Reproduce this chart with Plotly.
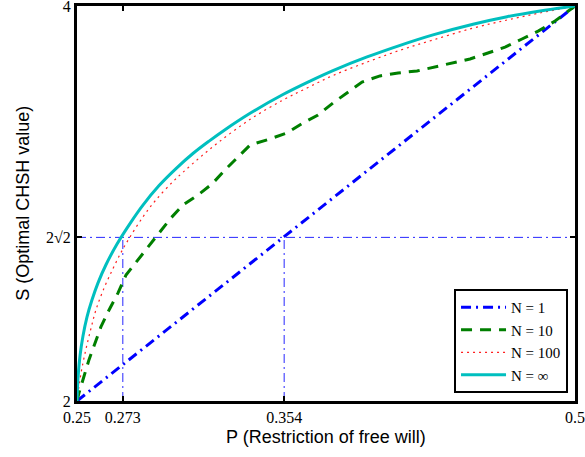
import math
import plotly.graph_objects as go

# ---- data ----
p_n1 = [0.25, 0.5]
s_n1 = [2.0, 4.0]

p_n10 = [0.25, 0.2510, 0.2560, 0.2620, 0.2661, 0.2706, 0.2746, 0.2806, 0.2856, 0.2912,
         0.2972, 0.3032, 0.3107, 0.3178, 0.3243, 0.3308, 0.3369, 0.3469, 0.3554, 0.3635,
         0.3710, 0.3785, 0.3861, 0.3931, 0.4021, 0.4112, 0.4207, 0.4297, 0.4388, 0.4473,
         0.4563, 0.4649, 0.4734, 0.4815, 0.4900, 0.5]
s_n10 = [2.0, 2.041, 2.208, 2.375, 2.461, 2.547, 2.638, 2.714, 2.775, 2.851,
         2.927, 2.992, 3.043, 3.099, 3.170, 3.235, 3.296, 3.327, 3.357, 3.408,
         3.448, 3.509, 3.564, 3.615, 3.646, 3.661, 3.671, 3.691, 3.711, 3.732,
         3.762, 3.792, 3.833, 3.873, 3.924, 4.0]

p_n100 = [0.25, 0.2510, 0.2525, 0.2545, 0.2570, 0.2595, 0.2636, 0.2681, 0.2721, 0.2761,
          0.2831, 0.2897, 0.2982, 0.3032, 0.3112, 0.3213, 0.3369, 0.3534, 0.3655, 0.3785,
          0.3956, 0.4122, 0.4287, 0.4488, 0.4659, 0.4825, 0.5]
s_n100 = [2.0, 2.076, 2.167, 2.263, 2.367, 2.461, 2.572, 2.671, 2.752, 2.822,
          2.932, 3.019, 3.111, 3.158, 3.229, 3.312, 3.426, 3.524, 3.585, 3.648,
          3.716, 3.776, 3.828, 3.888, 3.929, 3.965, 4.0]

p_inf = [0.25, 0.2505, 0.2515, 0.2530, 0.2550, 0.2575, 0.2605, 0.2646, 0.2701, 0.2771,
         0.2831, 0.2912, 0.2997, 0.3082, 0.3163, 0.3243, 0.3369, 0.3534, 0.3670, 0.3785,
         0.3956, 0.4122, 0.4287, 0.4488, 0.4659, 0.4825, 0.5]
s_inf = [2.0, 2.116, 2.228, 2.329, 2.425, 2.511, 2.597, 2.691, 2.795, 2.906,
         2.992, 3.091, 3.177, 3.253, 3.316, 3.374, 3.457, 3.552, 3.620, 3.673,
         3.742, 3.801, 3.854, 3.908, 3.946, 3.975, 4.0]

s_ref = 2 * math.sqrt(2)
p_ref_lines = [0.273, 0.354]

x_tickvals = [0.25, 0.273, 0.354, 0.5]
x_ticktext = ["0.25", "0.273", "0.354", "0.5"]
y_tickvals = [2, s_ref, 4]
y_ticktext = ["2", "2√2", "4"]

x_title = "P (Restriction of free will)"
y_title = "S (Optimal CHSH value)"

# ---- figure ----
fig = go.Figure()

ref_style = dict(color="rgba(0,0,255,0.85)", width=1, dash="9px,4px,2px,4px")
fig.add_trace(go.Scatter(x=[0.25, 0.5], y=[s_ref, s_ref], mode="lines",
                         line=ref_style, showlegend=False, hoverinfo="skip"))
for pr in p_ref_lines:
    fig.add_trace(go.Scatter(x=[pr, pr], y=[2, s_ref], mode="lines",
                             line=ref_style, showlegend=False, hoverinfo="skip"))

fig.add_trace(go.Scatter(x=p_n1, y=s_n1, mode="lines", name="N = 1",
                         line=dict(color="#0000ff", width=3, dash="10px,5px,2px,5px")))
fig.add_trace(go.Scatter(x=p_n10, y=s_n10, mode="lines", name="N = 10",
                         line=dict(color="#007f00", width=3, dash="11px,8px")))
fig.add_trace(go.Scatter(x=p_n100, y=s_n100, mode="lines", name="N = 100",
                         line=dict(color="#ff2020", width=1.2, dash="2px,4px", shape="spline",
                                   smoothing=1.0)))
fig.add_trace(go.Scatter(x=p_inf, y=s_inf, mode="lines", name="N = ∞",
                         line=dict(color="#00bfbf", width=3, shape="spline", smoothing=1.0)))

serif = "Liberation Serif"
sans = "Liberation Sans"

fig.update_layout(
    width=585, height=457,
    margin=dict(l=77, r=10, t=6, b=56, autoexpand=False),
    paper_bgcolor="white", plot_bgcolor="white",
    showlegend=True,
    legend=dict(x=0.986, y=0.02, xanchor="right", yanchor="bottom",
                bgcolor="white", bordercolor="black", borderwidth=2,
                font=dict(family=serif, size=15, color="black"),
                tracegroupgap=0, itemwidth=45),
    xaxis=dict(range=[0.25, 0.5], tickvals=x_tickvals, ticktext=x_ticktext,
               ticks="inside", ticklen=5, tickwidth=2, tickcolor="black",
               showline=True, linewidth=3, linecolor="black", mirror="ticks",
               showgrid=False, zeroline=False, automargin=False,
               ticklabeloverflow="allow",
               tickfont=dict(family=serif, size=16, color="black")),
    yaxis=dict(range=[2, 4], tickvals=y_tickvals, ticktext=y_ticktext,
               ticks="inside", ticklen=5, tickwidth=2, tickcolor="black",
               showline=True, linewidth=3, linecolor="black", mirror="ticks",
               showgrid=False, zeroline=False, automargin=False,
               ticklabeloverflow="allow",
               tickfont=dict(family=serif, size=16, color="black")),
    annotations=[
        dict(text=x_title, xref="paper", yref="paper", x=0.5, y=-0.091,
             xanchor="center", yanchor="middle", showarrow=False,
             font=dict(family=sans, size=18, color="black")),
        dict(text=y_title, xref="paper", yref="paper", x=-0.110, y=0.5,
             xanchor="center", yanchor="middle", showarrow=False, textangle=-90,
             font=dict(family=sans, size=18, color="black")),
    ],
)

fig.write_html("out.html", config={"displayModeBar": False},
               post_script="document.body.style.margin='0';document.body.style.overflow='hidden';")
